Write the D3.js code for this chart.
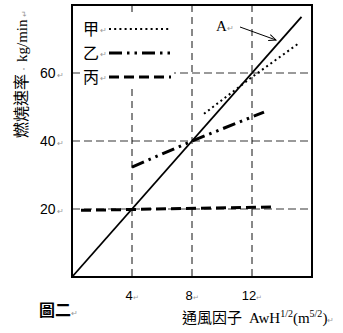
<!DOCTYPE html>
<html>
<head>
<meta charset="utf-8">
<script src="https://cdn.jsdelivr.net/npm/d3@7"></script>
<style>
  body { margin: 0; background: #fff; }
  svg { display: block; }
</style>
</head>
<body>
<svg class="svg"></svg>
<script>
// data
const xTicks = [4, 8, 12];
const yTicks = [20, 40, 60];
const lineA = [[0, 0], [15.3, 76.5]];
const seriesJia = [[8.8, 48], [12, 58.8], [15.2, 69]];
const seriesYi = [[4, 32.3], [8, 40], [12.8, 48.5]];
const seriesBing = [[0.6, 19.6], [13.3, 20.6]];
const legendNames = ["甲", "乙", "丙"];

const width = 343, height = 333;
const svg = d3.select(".svg").attr("width", width).attr("height", height);

const x = d3.scaleLinear().domain([0, 16]).range([72, 312]);
const y = d3.scaleLinear().domain([0, 80]).range([277, 5]);

const cjk = "'Noto Sans CJK TC', 'Noto Sans CJK SC', sans-serif";
const num = "'Liberation Sans', Arial, sans-serif";
const serif = "'Liberation Serif', serif";
const mark = "#999";

// horizontal grid (gray dashed)
svg.append("g")
  .selectAll("line")
  .data(yTicks)
  .join("line")
  .attr("x1", x(0)).attr("x2", x(16))
  .attr("y1", d => y(d)).attr("y2", d => y(d))
  .attr("stroke", "#7a7a7a")
  .attr("stroke-width", 1.6)
  .attr("stroke-dasharray", "8,4");

// vertical grid (black dashed)
svg.append("g")
  .selectAll("line")
  .data(xTicks)
  .join("line")
  .attr("x1", d => x(d)).attr("x2", d => x(d))
  .attr("y1", y(80)).attr("y2", y(0))
  .attr("stroke", "#111")
  .attr("stroke-width", 1)
  .attr("stroke-dasharray", "7,5");

// white legend patch hides grid behind legend
svg.append("rect")
  .attr("x", 80).attr("y", 14)
  .attr("width", 94).attr("height", 74)
  .attr("fill", "#fff");

const line = d3.line().x(d => x(d[0])).y(d => y(d[1]));

const styles = [
  { data: seriesJia, width: 2, dash: "2,3.2" },
  { data: seriesYi, width: 3, dash: "13,5,2.5,5,2.5,5" },
  { data: seriesBing, width: 3, dash: "10,5" }
];

svg.append("g")
  .selectAll("path")
  .data(styles)
  .join("path")
  .attr("d", d => line(d.data))
  .attr("fill", "none")
  .attr("stroke", "#000")
  .attr("stroke-width", d => d.width)
  .attr("stroke-dasharray", d => d.dash);

// line A
svg.append("path")
  .attr("d", line(lineA))
  .attr("fill", "none")
  .attr("stroke", "#000")
  .attr("stroke-width", 1.8);

// frame
svg.append("rect")
  .attr("x", x(0)).attr("y", y(80))
  .attr("width", x(16) - x(0)).attr("height", y(0) - y(80))
  .attr("fill", "none")
  .attr("stroke", "#000")
  .attr("stroke-width", 2);

// legend
const legend = svg.append("g")
  .selectAll("g")
  .data(styles)
  .join("g")
  .attr("transform", (d, i) => `translate(0, ${29 + i * 24})`);

legend.append("text")
  .attr("x", 83).attr("y", 6)
  .attr("font-family", cjk).attr("font-size", 16)
  .text((d, i) => legendNames[i]);
legend.append("text")
  .attr("x", 100).attr("y", 4)
  .attr("font-family", num).attr("font-size", 8).attr("fill", mark)
  .text("↵");
legend.append("line")
  .attr("x1", 109).attr("x2", 171)
  .attr("stroke", "#000")
  .attr("stroke-width", d => d.width)
  .attr("stroke-dasharray", d => d.dash);

// y tick labels
const yl = svg.append("g")
  .selectAll("text")
  .data(yTicks)
  .join("text")
  .attr("x", 40).attr("y", d => y(d) + 5)
  .attr("font-family", num).attr("font-size", 14)
  .text(d => d);
yl.append("tspan").attr("font-size", 8).attr("fill", mark).attr("dx", 1).text("↵");

// x tick labels
const xl = svg.append("g")
  .selectAll("text")
  .data(xTicks)
  .join("text")
  .attr("x", d => x(d)).attr("y", 300)
  .attr("text-anchor", "middle")
  .attr("font-family", num).attr("font-size", 13)
  .text(d => d);
xl.append("tspan").attr("font-size", 7).attr("fill", mark).text("↵");

// y axis title
const yt = svg.append("text")
  .attr("transform", "translate(27,138) rotate(-90)")
  .attr("font-family", cjk).attr("font-size", 16)
  .text("燃燒速率");
yt.append("tspan").attr("font-size", 8).attr("fill", mark).attr("dx", 1).text("·");
yt.append("tspan").attr("font-family", serif).attr("font-size", 15).attr("dx", 3).text("kg/min");
yt.append("tspan").attr("font-size", 8).attr("fill", mark).attr("dx", 2).text("↵");

// x axis title
const xt = svg.append("text")
  .attr("x", 182).attr("y", 323)
  .attr("font-family", cjk).attr("font-size", 15)
  .text("通風因子");
xt.append("tspan").attr("font-family", serif).attr("font-size", 15).attr("dx", 7).text("AwH");
xt.append("tspan").attr("font-family", serif).attr("font-size", 10).attr("dy", -6).text("1/2");
xt.append("tspan").attr("font-family", serif).attr("font-size", 15).attr("dy", 6).text("(m");
xt.append("tspan").attr("font-family", serif).attr("font-size", 10).attr("dy", -6).text("5/2");
xt.append("tspan").attr("font-family", serif).attr("font-size", 15).attr("dy", 6).text(")");
xt.append("tspan").attr("font-size", 8).attr("fill", mark).text("↵");

// figure caption
svg.append("text")
  .attr("x", 39).attr("y", 316)
  .attr("font-family", cjk).attr("font-size", 16).attr("font-weight", "bold")
  .text("圖二")
  .append("tspan").attr("font-size", 8).attr("font-weight", "normal").attr("fill", mark).text("↵");

// label A with arrow
svg.append("defs").append("marker")
  .attr("id", "arr")
  .attr("viewBox", "0 0 10 10")
  .attr("refX", 9).attr("refY", 5)
  .attr("markerWidth", 8).attr("markerHeight", 8)
  .attr("orient", "auto")
  .append("path")
  .attr("d", "M0,1 L9,5 L0,9")
  .attr("fill", "none").attr("stroke", "#000").attr("stroke-width", 1.2);

svg.append("text")
  .attr("x", 216).attr("y", 31)
  .attr("font-family", serif).attr("font-size", 15)
  .text("A")
  .append("tspan").attr("font-size", 8).attr("fill", mark).text("↵");

svg.append("line")
  .attr("x1", 240).attr("y1", 27)
  .attr("x2", 276).attr("y2", 40)
  .attr("stroke", "#000").attr("stroke-width", 1)
  .attr("marker-end", "url(#arr)");
</script>
</body>
</html>
